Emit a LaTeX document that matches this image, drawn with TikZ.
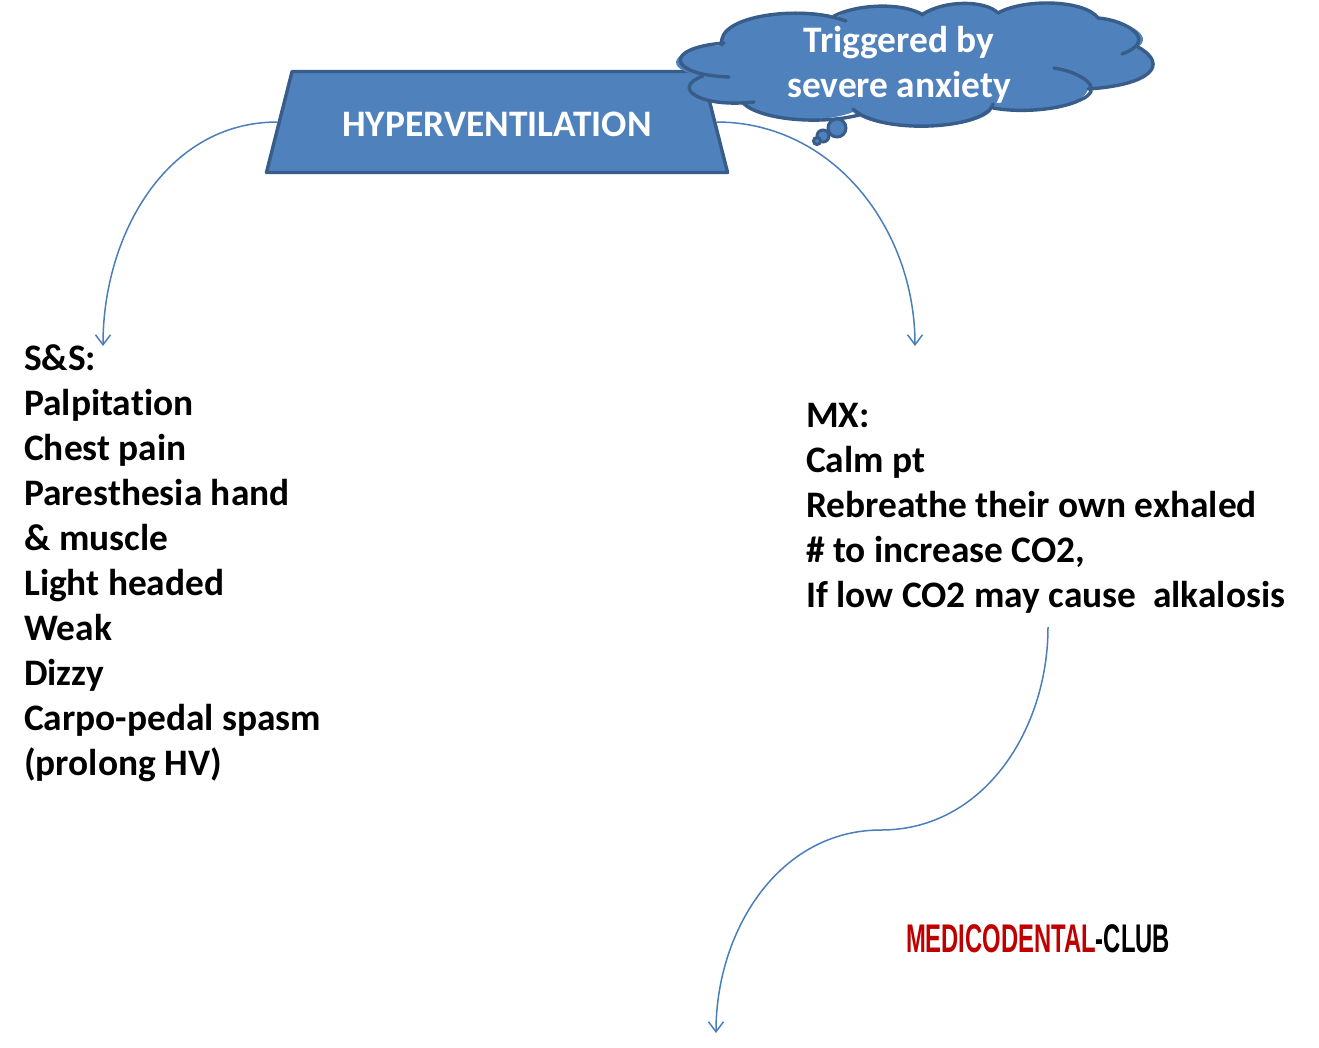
\documentclass[tikz,border=0pt]{standalone}
\usepackage{fontspec}
\setmainfont[Ligatures=NoCommon]{Carlito}
\newfontfamily\clubfont[FakeStretch=0.595]{Liberation Sans}
\usetikzlibrary{shapes.geometric,arrows.meta}
\definecolor{shapefill}{HTML}{4F81BD}
\definecolor{shapeline}{HTML}{385D8A}
\definecolor{linkline}{HTML}{4A7EBB}
\definecolor{clubred}{HTML}{C00000}
\tikzset{
	titlebox/.style={draw=shapeline,fill=shapefill,line width=3.4pt,text=white,trapezium,trapezium left angle=52,trapezium right angle=52,trapezium stretches=true,minimum width=462pt,minimum height=101pt,inner sep=0pt,line join=round},
	whitetext/.style={text=white,align=center},
	listtext/.style={align=left,anchor=north west,inner sep=0pt},
	link/.style={draw=linkline,line width=1.5pt,-{Straight Barb[length=10pt,width=15pt,line width=1.5pt]}},
	cloudline/.style={draw=shapeline,line width=3.4pt,line cap=round}
}
\begin{document}
\begin{tikzpicture}[x=1pt,y=-1pt,font=\fontsize{37.4}{45}\selectfont\bfseries]
	\useasboundingbox (0,0) rectangle (1319,1047);
	\coordinate (signsend) at (103,346);
	\coordinate (manageend) at (915,346);
	\coordinate (managestart) at (1048,627);
	\coordinate (bendpoint) at (881,830);
	\coordinate (lastend) at (716,1033);
	\node[titlebox] (title) at (497,122) {\raisebox{-2pt}[\height][\depth]{HYPERVENTILATION}};
	\draw[link] (title.west) to[out=180,in=90,looseness=1] (signsend);
	\draw[link] (title.east) to[out=0,in=90,looseness=1] (manageend);
	% cloud: fill first, then the lobes one by one
	\fill[shapefill] (722,45) .. controls (715,16) and (800,4) .. (837,17)
		.. controls (860,3) and (905,3) .. (923,14)
		.. controls (945,0) and (985,0) .. (998,13)
		.. controls (1025,-2) and (1085,0) .. (1098,18)
		.. controls (1125,20) and (1155,35) .. (1138,47)
		.. controls (1170,65) and (1150,85) .. (1088,89)
		.. controls (1085,105) and (1040,113) .. (993,108)
		.. controls (985,130) and (880,135) .. (853,112)
		.. controls (820,125) and (760,120) .. (743,103)
		.. controls (700,108) and (670,88) .. (703,76)
		.. controls (660,70) and (670,48) .. (722,45) -- cycle;
	\draw[cloudline] (722,45) .. controls (715,16) and (800,4) .. (846,21);
	\draw[cloudline] (834,16) .. controls (860,3) and (905,3) .. (923,15);
	\draw[cloudline] (923,14) .. controls (945,0) and (985,0) .. (998,13);
	\draw[cloudline] (998,13) .. controls (1025,-2) and (1085,0) .. (1098,18);
	\draw[cloudline] (1098,18) .. controls (1125,20) and (1160,40) .. (1122,54);
	\draw[cloudline] (1138,47) .. controls (1170,65) and (1150,85) .. (1088,89);
	\draw[cloudline] (1054,68) .. controls (1085,73) and (1105,90) .. (1080,100) .. controls (1060,110) and (1020,113) .. (993,108);
	\draw[cloudline] (993,104) .. controls (985,130) and (880,135) .. (853,109);
	\draw[cloudline] (859,115) .. controls (820,125) and (760,120) .. (743,103);
	\draw[cloudline] (754,102) .. controls (700,108) and (670,88) .. (703,76);
	\draw[cloudline] (729,77) .. controls (668,75) and (662,48) .. (724,43);
	\foreach \cx/\cy/\cr in {837/128/9,823/136/6,817/141/3.5}
		\draw[fill=shapefill,draw=shapeline,line width=3pt] (\cx,\cy) circle(\cr pt);
	\node[whitetext] (cloudtext) at (899,65) {Triggered by\\severe anxiety};
	\node[listtext] (signs) at (24,344) {S\&S:\\Palpitation\\Chest pain\\Paresthesia hand\\\& muscle\\Light headed\\Weak\\Dizzy\\Carpo-pedal spasm\\(prolong HV)};
	\node[listtext] (manage) at (806,403) {MX:\\Calm pt\\Rebreathe their own exhaled\\\# to increase CO2,\\If low CO2 may cause\ \ alkalosis};
	\node[inner sep=0pt,font=\fontsize{40}{45}\selectfont\bfseries\clubfont] (club) at (1038,939) {\textcolor{clubred}{MEDICODENTAL}\textcolor{black}{-CLUB}};
	\draw[draw=linkline,line width=1.5pt] (managestart) to[out=270,in=0,looseness=1] (bendpoint);
	\draw[link] (bendpoint) to[out=180,in=90,looseness=1] (lastend);
\end{tikzpicture}
\end{document}
